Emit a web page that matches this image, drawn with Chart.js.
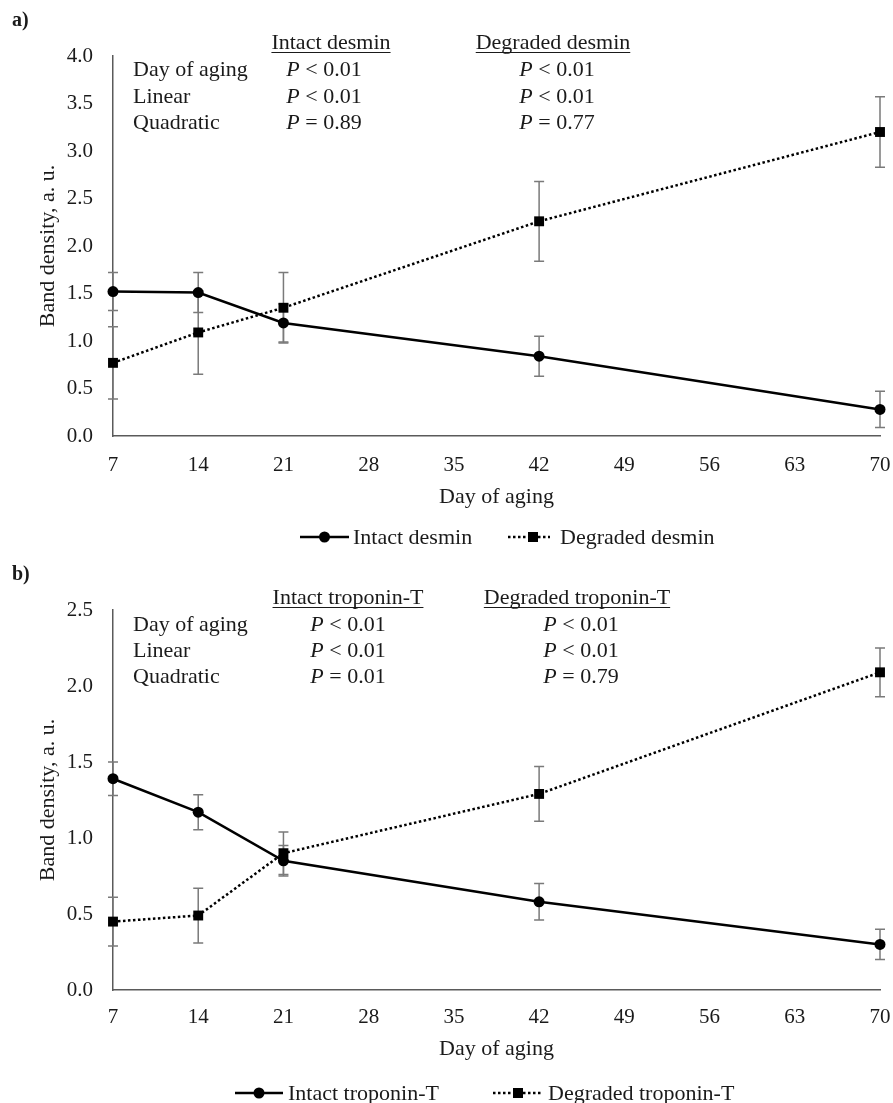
<!DOCTYPE html>
<html>
<head>
<meta charset="utf-8">
<script src="https://cdn.jsdelivr.net/npm/chart.js@4/dist/chart.umd.min.js"></script>
<style>
  html, body { margin: 0; padding: 0; background: #fff; }
  #wrap { position: relative; width: 893px; height: 1103px; overflow: hidden; }
  canvas { position: absolute; left: 0; }
  #panelA { top: 0; }
  #panelB { top: 555px; }
</style>
</head>
<body>
<div id="wrap">
  <canvas id="panelA" width="893" height="555"></canvas>
  <canvas id="panelB" width="893" height="548"></canvas>
</div>
<script>
// Sampling days (x axis)
const days = [7, 14, 21, 42, 70];
const xTicks = [7, 14, 21, 28, 35, 42, 49, 56, 63, 70];

// Panel a: desmin band density (means and SE)
const intactDesmin = [1.52, 1.51, 1.19, 0.84, 0.28];
const intactDesminSE = [0.20, 0.21, 0.20, 0.21, 0.19];
const degradedDesmin = [0.77, 1.09, 1.35, 2.26, 3.20];
const degradedDesminSE = [0.38, 0.44, 0.37, 0.42, 0.37];

// Panel b: troponin-T band density (means and SE)
const intactTroponin = [1.39, 1.17, 0.85, 0.58, 0.30];
const intactTroponinSE = [0.11, 0.115, 0.10, 0.12, 0.10];
const degradedTroponin = [0.45, 0.49, 0.90, 1.29, 2.09];
const degradedTroponinSE = [0.16, 0.18, 0.14, 0.18, 0.16];

// Contrast tables
const statRows = ['Day of aging', 'Linear', 'Quadratic'];
const intactDesminP = ['< 0.01', '< 0.01', '= 0.89'];
const degradedDesminP = ['< 0.01', '< 0.01', '= 0.77'];
const intactTroponinP = ['< 0.01', '< 0.01', '= 0.01'];
const degradedTroponinP = ['< 0.01', '< 0.01', '= 0.79'];

const SERIF = '"Liberation Serif", "Times New Roman", serif';
const INK = '#1a1a1a';

// Vertical SE bars drawn under the lines and markers
const errorBars = {
  id: 'errorBars',
  beforeDatasetsDraw(chart) {
    const ctx = chart.ctx;
    const y = chart.scales.y;
    ctx.save();
    ctx.strokeStyle = '#7a7a7a';
    ctx.lineWidth = 1.5;
    chart.data.datasets.forEach((ds, di) => {
      const meta = chart.getDatasetMeta(di);
      meta.data.forEach((pt, i) => {
        const v = ds.data[i].y, e = ds.se[i];
        const top = y.getPixelForValue(v + e);
        const bot = y.getPixelForValue(v - e);
        const cx = pt.x, cap = 5;
        ctx.beginPath();
        ctx.moveTo(cx, top); ctx.lineTo(cx, bot);
        ctx.moveTo(cx - cap, top); ctx.lineTo(cx + cap, top);
        ctx.moveTo(cx - cap, bot); ctx.lineTo(cx + cap, bot);
        ctx.stroke();
      });
    });
    ctx.restore();
  }
};

function drawP(ctx, text, cx, cy) {
  const fItal = 'italic 22px ' + SERIF;
  const fReg = '22px ' + SERIF;
  ctx.font = fItal;
  const wP = ctx.measureText('P').width;
  ctx.font = fReg;
  const rest = ' ' + text;
  const wR = ctx.measureText(rest).width;
  const x0 = cx - (wP + wR) / 2;
  ctx.textAlign = 'left';
  ctx.font = fItal;
  ctx.fillText('P', x0, cy);
  ctx.font = fReg;
  ctx.fillText(rest, x0 + wP, cy);
}

// Panel letter, contrast table and legend
const panelText = {
  id: 'panelText',
  afterDraw(chart, args, o) {
    const ctx = chart.ctx;
    ctx.save();
    ctx.fillStyle = INK;
    ctx.strokeStyle = INK;
    ctx.textBaseline = 'middle';

    ctx.font = 'bold 20px ' + SERIF;
    ctx.textAlign = 'left';
    ctx.fillText(o.letter, 12, o.letterY);

    ctx.font = '22px ' + SERIF;
    o.headers.forEach((h, k) => {
      ctx.textAlign = 'center';
      ctx.fillText(h, o.headerX[k], o.headerY);
      const w = ctx.measureText(h).width;
      ctx.lineWidth = 1;
      ctx.beginPath();
      ctx.moveTo(o.headerX[k] - w / 2, o.headerY + 9.5);
      ctx.lineTo(o.headerX[k] + w / 2, o.headerY + 9.5);
      ctx.stroke();
    });
    statRows.forEach((r, i) => {
      const yy = o.rowY[i];
      ctx.font = '22px ' + SERIF;
      ctx.textAlign = 'left';
      ctx.fillText(r, 133, yy);
      drawP(ctx, o.pCols[0][i], o.colX[0], yy);
      drawP(ctx, o.pCols[1][i], o.colX[1], yy);
    });

    // legend
    const ly = o.legendY;
    const lg = o.legend;
    ctx.fillStyle = '#000';
    ctx.strokeStyle = '#000';
    ctx.lineWidth = 2.5;
    ctx.setLineDash([]);
    ctx.beginPath();
    ctx.moveTo(lg.solid[0], ly); ctx.lineTo(lg.solid[1], ly);
    ctx.stroke();
    ctx.beginPath();
    ctx.arc((lg.solid[0] + lg.solid[1]) / 2, ly, 5.5, 0, Math.PI * 2);
    ctx.fill();
    ctx.setLineDash([2.5, 2.5]);
    ctx.beginPath();
    ctx.moveTo(lg.dotted[0], ly); ctx.lineTo(lg.dotted[1], ly);
    ctx.stroke();
    ctx.setLineDash([]);
    ctx.fillRect(lg.square - 5, ly - 5, 10, 10);

    ctx.fillStyle = INK;
    ctx.font = '22px ' + SERIF;
    ctx.textAlign = 'left';
    ctx.fillText(lg.names[0], lg.textX[0], ly + 1);
    ctx.fillText(lg.names[1], lg.textX[1], ly + 1);
    ctx.restore();
  }
};

function pairs(ys) { return days.map((d, i) => ({ x: d, y: ys[i] })); }

function makePanel(id, cfg) {
  return new Chart(document.getElementById(id), {
    type: 'line',
    data: {
      datasets: [
        {
          label: cfg.names[0],
          data: pairs(cfg.intact), se: cfg.intactSE, clip: false,
          borderColor: '#000', borderWidth: 2.5, tension: 0,
          pointStyle: 'circle', pointRadius: 5.5, pointBorderWidth: 0,
          pointBackgroundColor: '#000', fill: false
        },
        {
          label: cfg.names[1],
          data: pairs(cfg.degraded), se: cfg.degradedSE, clip: false,
          borderColor: '#000', borderWidth: 2.5, borderDash: [2.5, 2.5], tension: 0,
          pointStyle: 'rect', pointRadius: 7, pointBorderWidth: 0,
          pointBackgroundColor: '#000', fill: false
        }
      ]
    },
    options: {
      responsive: false,
      animation: false,
      events: [],
      layout: { padding: { top: cfg.padTop, right: 13, left: 0, bottom: cfg.padBottom } },
      plugins: {
        legend: { display: false },
        tooltip: { enabled: false },
        panelText: cfg.text
      },
      scales: {
        x: {
          type: 'linear', min: 7, max: 70,
          afterBuildTicks(s) { s.ticks = xTicks.map(v => ({ value: v })); },
          afterFit(s) { s.height = cfg.xHeight; s.paddingLeft = 0; s.paddingRight = 0; },
          grid: { display: false, drawTicks: false },
          border: { display: true, color: '#5a5a5a', width: 1.5 },
          ticks: { color: INK, padding: cfg.xTickPad, font: { family: SERIF, size: 21 } },
          title: { display: true, text: 'Day of aging', color: INK, padding: { top: 0, bottom: 0 },
                   font: { family: SERIF, size: 22 } }
        },
        y: {
          min: 0, max: cfg.yMax,
          afterFit(s) { s.width = 113; },
          grid: { display: false, drawTicks: false },
          border: { display: true, color: '#5a5a5a', width: 1.5 },
          ticks: { stepSize: 0.5, color: INK, padding: 20, font: { family: SERIF, size: 21 },
                   callback: v => Number(v).toFixed(1) },
          title: { display: true, text: 'Band density, a. u.', color: INK,
                   padding: { top: 35, bottom: 0 }, font: { family: SERIF, size: 22 } }
        }
      }
    },
    plugins: [errorBars, panelText]
  });
}

makePanel('panelA', {
  names: ['Intact desmin', 'Degraded desmin'],
  intact: intactDesmin, intactSE: intactDesminSE,
  degraded: degradedDesmin, degradedSE: degradedDesminSE,
  yMax: 4, padTop: 56, padBottom: 45, xHeight: 74, xTickPad: 17,
  text: {
    letter: 'a)', letterY: 21,
    headers: ['Intact desmin', 'Degraded desmin'], headerX: [331, 553], headerY: 43,
    rowY: [70, 97, 123], colX: [324, 557],
    pCols: [intactDesminP, degradedDesminP],
    legendY: 537,
    legend: { solid: [300, 349], dotted: [508, 550], square: 533, textX: [353, 560],
              names: ['Intact desmin', 'Degraded desmin'] }
  }
});

makePanel('panelB', {
  names: ['Intact troponin-T', 'Degraded troponin-T'],
  intact: intactTroponin, intactSE: intactTroponinSE,
  degraded: degradedTroponin, degradedSE: degradedTroponinSE,
  yMax: 2.5, padTop: 55, padBottom: 41, xHeight: 72, xTickPad: 15,
  text: {
    letter: 'b)', letterY: 20,
    headers: ['Intact troponin-T', 'Degraded troponin-T'], headerX: [348, 577], headerY: 43,
    rowY: [70, 96, 122], colX: [348, 581],
    pCols: [intactTroponinP, degradedTroponinP],
    legendY: 538,
    legend: { solid: [235, 283], dotted: [493, 543], square: 518, textX: [288, 548],
              names: ['Intact troponin-T', 'Degraded troponin-T'] }
  }
});
</script>
</body>
</html>
